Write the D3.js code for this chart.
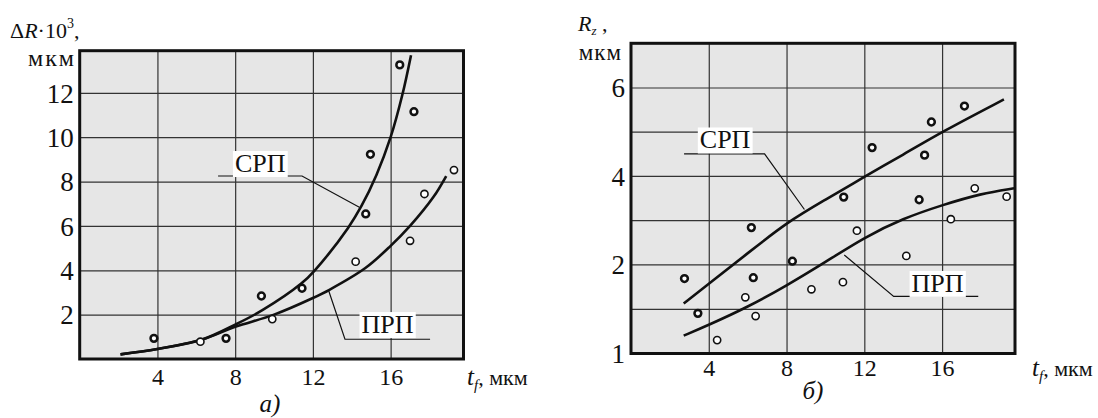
<!DOCTYPE html>
<html lang="ru">
<head>
<meta charset="utf-8" />
<title></title>
<script src="https://d3js.org/d3.v7.min.js"></script>
<style>
  body { margin: 0; background: #fff; }
  svg text { font-family: "Liberation Serif", "Times New Roman", serif; fill: #111; }
  .grid line { stroke: #333; stroke-width: 1.2; }
  .grid path, .ticks path, .ticks line { display: none; }
  .frame { fill: none; stroke: #111; stroke-width: 3; }
  .bg { fill: #e6e6e6; }
  .curve { fill: none; stroke: #111; stroke-width: 2.6; }
  .leader { fill: none; stroke: #111; stroke-width: 1.2; }
</style>
</head>
<body>
<svg id="chart" width="1098" height="418"></svg>
<script>
// shared x axis (t_f, мкм)
const xTicks = [4, 8, 12, 16];

// ---- panel а) : ΔR·10^3 vs t_f
const aYTicks = [2, 4, 6, 8, 10, 12];
const aSrpX = [2.1, 4, 6.3, 8, 9.4, 11.4, 12.1, 13.8, 14.5, 15.27, 16, 16.6, 17.05];
const aSrpY = [0.21, 0.45, 0.88, 1.55, 2.2, 3.4, 4.0, 5.9, 6.9, 8.3, 10, 11.9, 13.7];
const aPrpX = [2.1, 4, 6.3, 8, 10, 12, 12.85, 14.7, 16, 17, 18.2, 18.86];
const aPrpY = [0.21, 0.45, 0.88, 1.45, 2.0, 2.75, 3.12, 4.1, 5.1, 6.0, 7.3, 8.25];
const aDarkX = [3.82, 7.53, 9.35, 11.44, 14.72, 14.96, 16.47, 17.2];
const aDarkY = [0.93, 0.93, 2.84, 3.19, 6.54, 9.23, 13.26, 11.15];
const aLightX = [6.21, 9.91, 14.2, 17.0, 17.74, 19.26];
const aLightY = [0.78, 1.80, 4.39, 5.33, 7.44, 8.52];

// ---- panel б) : Rz vs t_f
const bYTicks = [1, 2, 4, 6];
const bGridY = [1.5, 2, 3, 4, 5, 6];
const bSrpX = [2.71, 4, 6, 8.05, 10, 12, 14, 16, 19.18];
const bSrpY = [1.56, 1.78, 2.25, 2.96, 3.46, 3.98, 4.48, 5.0, 5.73];
const bPrpX = [2.71, 4, 6, 8, 10, 12, 14, 16, 18, 19.7];
const bPrpY = [1.20, 1.32, 1.52, 1.76, 2.05, 2.61, 3.04, 3.34, 3.6, 3.72];
const bDarkX = [2.75, 3.44, 6.19, 6.29, 8.30, 10.94, 12.40, 14.82, 15.10, 15.45, 17.15];
const bDarkY = [1.84, 1.45, 2.83, 1.85, 2.07, 3.52, 4.64, 3.46, 4.47, 5.22, 5.58];
const bLightX = [4.43, 5.88, 6.41, 9.28, 10.90, 11.62, 14.16, 16.45, 17.68, 19.32];
const bLightY = [1.15, 1.63, 1.42, 1.72, 1.80, 2.76, 2.19, 3.02, 3.72, 3.53];

const zip = (xs, ys) => xs.map((x, i) => [x, ys[i]]);
const svg = d3.select("#chart");

function drawPanel(c) {
    const g = svg.append("g");
    const x = d3.scaleLinear().domain([0, 19.75]).range([c.x0, c.x1]);
    const y = c.y;

    g.append("rect").attr("class", "bg")
        .attr("x", c.x0).attr("y", c.y0)
        .attr("width", c.x1 - c.x0).attr("height", c.y1 - c.y0);

    // grid
    g.append("g").attr("class", "grid")
        .attr("transform", "translate(0," + c.y1 + ")")
        .call(d3.axisBottom(x).tickValues(xTicks).tickSize(-(c.y1 - c.y0)).tickFormat(""));
    g.append("g").attr("class", "grid")
        .attr("transform", "translate(" + c.x0 + ",0)")
        .call(d3.axisLeft(y).tickValues(c.gridY).tickSize(-(c.x1 - c.x0)).tickFormat(""));

    // tick labels
    const xa = g.append("g").attr("class", "ticks")
        .attr("transform", "translate(0," + c.y1 + ")")
        .call(d3.axisBottom(x).tickValues(xTicks).tickSize(0));
    xa.selectAll("text").attr("y", c.xLblDy).attr("dy", 0).style("font-size", "24px");
    const ya = g.append("g").attr("class", "ticks")
        .attr("transform", "translate(" + c.x0 + ",0)")
        .call(d3.axisLeft(y).tickValues(c.yTicks).tickFormat(d3.format("d")).tickSize(0).tickPadding(6));
    ya.selectAll("text").attr("dy", "0.34em").style("font-size", "27px");
    g.selectAll(".ticks").attr("font-family", null).attr("font-size", null);

    // curves
    const line = d3.line().x(d => x(d[0])).y(d => y(d[1])).curve(c.curveType);
    c.curves.forEach(pts => g.append("path").attr("class", "curve").attr("d", line(pts)));

    // labels with leaders
    c.labels.forEach(l => {
        g.append("path").attr("class", "leader")
            .attr("d", d3.line().x(d => x(d[0])).y(d => y(d[1]))(l.leader));
        const lg = g.append("g");
        const t = lg.append("text")
            .attr("x", x(l.at[0])).attr("y", y(l.at[1]))
            .attr("text-anchor", "middle").style("font-size", "26px").text(l.text);
        const bb = t.node().getBBox();
        lg.insert("rect", "text")
            .attr("x", bb.x - 2).attr("y", bb.y + 2)
            .attr("width", bb.width + 4).attr("height", bb.height - 3)
            .attr("fill", "#fff");
    });

    // points
    g.append("g").selectAll("circle").data(c.dark).join("circle")
        .attr("cx", d => x(d[0])).attr("cy", d => y(d[1]))
        .attr("r", 3.4).attr("fill", "#fff").attr("stroke", "#111").attr("stroke-width", 2.5);
    g.append("g").selectAll("circle").data(c.light).join("circle")
        .attr("cx", d => x(d[0])).attr("cy", d => y(d[1]))
        .attr("r", 3.6).attr("fill", "#fff").attr("stroke", "#111").attr("stroke-width", 1.6);

    g.append("rect").attr("class", "frame")
        .attr("x", c.x0).attr("y", c.y0)
        .attr("width", c.x1 - c.x0).attr("height", c.y1 - c.y0);

    // x title
    const xt = g.append("text").attr("x", c.xTitle[0]).attr("y", c.xTitle[1]).style("font-size", "25px");
    xt.append("tspan").style("font-style", "italic").text("t");
    xt.append("tspan").style("font-style", "italic").style("font-size", "15px").attr("dy", 5).text("f");
    xt.append("tspan").style("font-size", "22px").attr("dy", -5).text(", мкм");

    g.append("text").attr("x", c.cap[0]).attr("y", c.cap[1])
        .attr("text-anchor", "middle").style("font-style", "italic").style("font-size", "25px")
        .text(c.capText);
    return g;
}

const yA = d3.scaleLinear().domain([0, 13.9]).range([359, 50.7]);
drawPanel({
    x0: 79.7, x1: 463.5, y0: 50.7, y1: 359, y: yA,
    gridY: aYTicks, yTicks: aYTicks, xLblDy: 26,
    curveType: d3.curveCatmullRom.alpha(0.5),
    curves: [zip(aSrpX, aSrpY), zip(aPrpX, aPrpY)],
    dark: zip(aDarkX, aDarkY), light: zip(aLightX, aLightY),
    labels: [
        { text: "СРП", at: [9.29, 8.43], leader: [[7.12, 8.25], [11.44, 8.25], [14.39, 6.84]] },
        { text: "ПРП", at: [15.84, 1.17], leader: [[12.8, 3.11], [13.65, 0.89], [18.03, 0.89]] }
    ],
    xTitle: [467, 385], cap: [270, 412], capText: "а)"
});

const yB = d3.scaleLinear().domain([1, 2, 7]).range([353.5, 264.3, 43.3]);
drawPanel({
    x0: 631, x1: 1015, y0: 43.3, y1: 353.5, y: yB,
    gridY: bGridY, yTicks: bYTicks, xLblDy: 22,
    curveType: d3.curveBasis,
    curves: [zip(bSrpX, bSrpY), zip(bPrpX, bPrpY)],
    dark: zip(bDarkX, bDarkY), light: zip(bLightX, bLightY),
    labels: [
        { text: "СРП", at: [4.84, 4.62], leader: [[2.73, 4.5], [6.87, 4.5], [8.92, 3.24]] },
        { text: "ПРП", at: [15.77, 1.69], leader: [[10.97, 2.21], [13.51, 1.64], [17.86, 1.64]] }
    ],
    xTitle: [1032, 376], cap: [813, 399], capText: "б)"
});

// y titles
const ta = svg.append("text").attr("x", 10).attr("y", 38).style("font-size", "22px");
ta.append("tspan").text("Δ");
ta.append("tspan").style("font-style", "italic").text("R");
ta.append("tspan").text("·10");
ta.append("tspan").style("font-size", "14px").attr("dy", -10).text("3");
ta.append("tspan").attr("dy", 10).text(",");
svg.append("text").attr("x", 76).attr("y", 66).attr("text-anchor", "end")
    .style("font-size", "24px").style("letter-spacing", "2px").text("мкм");

const tb = svg.append("text").attr("x", 578).attr("y", 31).style("font-size", "22px");
tb.append("tspan").style("font-style", "italic").text("R");
tb.append("tspan").style("font-style", "italic").style("font-size", "13px").attr("dy", 4).text("z");
tb.append("tspan").attr("dy", -4).text(" ,");
svg.append("text").attr("x", 622).attr("y", 60).attr("text-anchor", "end")
    .style("font-size", "23px").style("letter-spacing", "1px").text("мкм");
</script>
</body>
</html>
